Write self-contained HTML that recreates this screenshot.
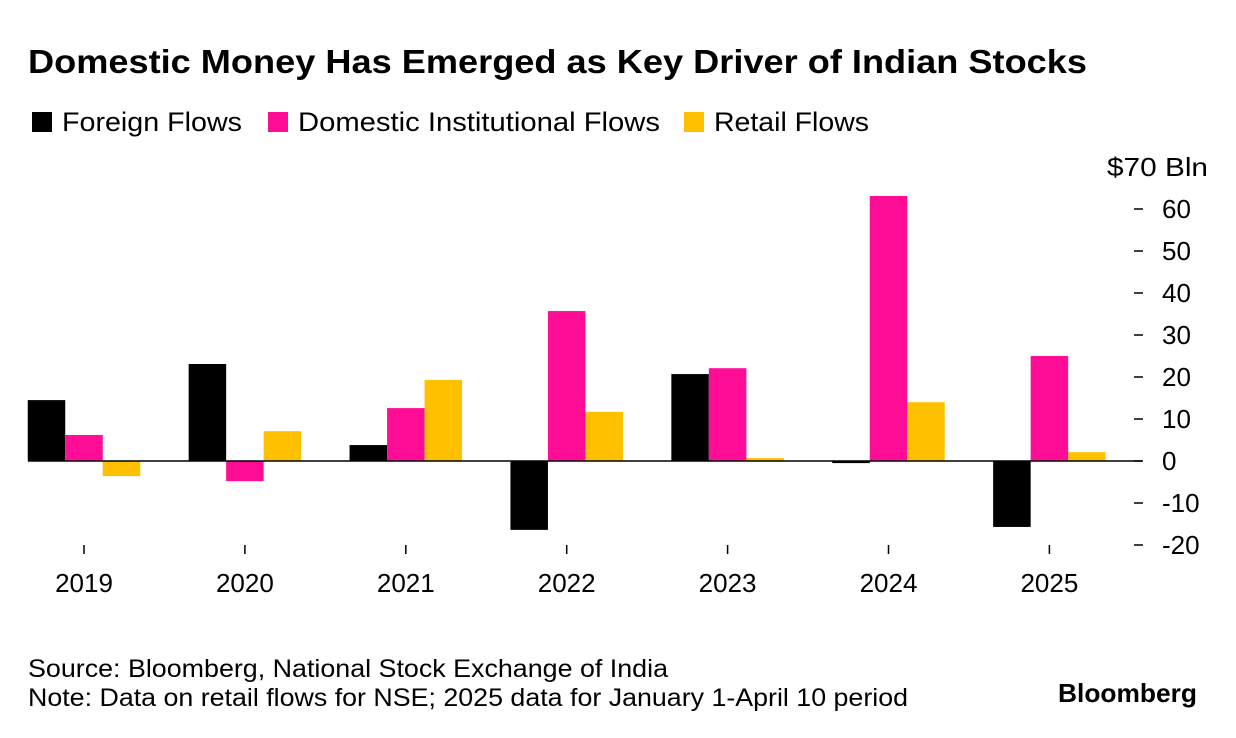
<!DOCTYPE html>
<html><head><meta charset="utf-8"><style>
body{margin:0;background:#fff;font-family:"Liberation Sans",sans-serif;}
#wrap{position:relative;width:1236px;height:738px;overflow:hidden;}
</style></head><body>
<div id="wrap">
<svg id="svg" width="1236" height="738" xmlns="http://www.w3.org/2000/svg" font-family="Liberation Sans, sans-serif">
<text x="28" y="73" font-size="33" font-weight="bold" fill="#000" textLength="1059" lengthAdjust="spacingAndGlyphs">Domestic Money Has Emerged as Key Driver of Indian Stocks</text>
<g>
<rect x="32" y="112" width="20" height="20" fill="#000"/>
<text x="62" y="131" font-size="27" fill="#000" textLength="180" lengthAdjust="spacingAndGlyphs">Foreign Flows</text>
<rect x="268" y="112" width="20" height="20" fill="#ff0d96"/>
<text x="298" y="131" font-size="27" fill="#000" textLength="362" lengthAdjust="spacingAndGlyphs">Domestic Institutional Flows</text>
<rect x="684" y="112" width="20" height="20" fill="#ffc000"/>
<text x="714" y="131" font-size="27" fill="#000" textLength="155" lengthAdjust="spacingAndGlyphs">Retail Flows</text>
</g>
<text x="1107" y="176" font-size="26" fill="#000" textLength="101" lengthAdjust="spacingAndGlyphs">$70 Bln</text>
<g id="plot"></g>
<text x="28" y="677" font-size="25" fill="#000" textLength="640" lengthAdjust="spacingAndGlyphs">Source: Bloomberg, National Stock Exchange of India</text>
<text x="28" y="706" font-size="25" fill="#000" textLength="880" lengthAdjust="spacingAndGlyphs">Note: Data on retail flows for NSE; 2025 data for January 1-April 10 period</text>
<text x="1058" y="702" font-size="26" font-weight="bold" fill="#000" textLength="139" lengthAdjust="spacingAndGlyphs">Bloomberg</text>
</svg>
</div>
<script>
const categories=["2019","2020","2021","2022","2023","2024","2025"];
const foreign=[14.5,23.1,3.8,-16.4,20.7,-0.5,-15.7];
const domestic=[6.2,-4.8,12.6,35.7,22.1,63.1,25.0];
const retail=[-3.6,7.1,19.3,11.7,0.7,14.0,2.1];
const yTicks=[60,50,40,30,20,10,0,-10,-20];
const NS="http://www.w3.org/2000/svg";
const g=document.getElementById('plot');
const y=v=>461-v*4.2;
const cx=i=>84+i*160.9;
const bw=37.5;
function mk(t,a){const e=document.createElementNS(NS,t);for(const k in a)e.setAttribute(k,a[k]);g.appendChild(e);return e;}
const series=[[foreign,"#000","foreign"],[domestic,"#ff0d96","domestic"],[retail,"#ffc000","retail"]];
categories.forEach((c,i)=>{
  series.forEach((s,j)=>{
    const v=s[0][i];
    const r=mk('rect',{x:cx(i)-1.5*bw+j*bw,y:Math.min(y(v),y(0)),width:bw,height:Math.max(Math.abs(y(v)-y(0)),1),fill:s[1]});
    
    
  });
  const tk=mk('line',{x1:cx(i),x2:cx(i),y1:545,y2:554,stroke:'#000','stroke-width':1.5});
  
  
  const t=mk('text',{x:cx(i),y:592,'font-size':26,'text-anchor':'middle',fill:'#000'});
  t.textContent=c;
  
  
});
const zl=mk('line',{x1:28,x2:1142,y1:y(0),y2:y(0),stroke:'#000','stroke-width':1.5});


yTicks.forEach(v=>{
  const d=mk('line',{x1:1134,x2:1143,y1:y(v),y2:y(v),stroke:'#000','stroke-width':1.5});
  
  
  const t=mk('text',{x:1162,y:y(v)+9,'font-size':26,fill:'#000'});
  t.textContent=v;
  
  
});
</script>
</body></html>
